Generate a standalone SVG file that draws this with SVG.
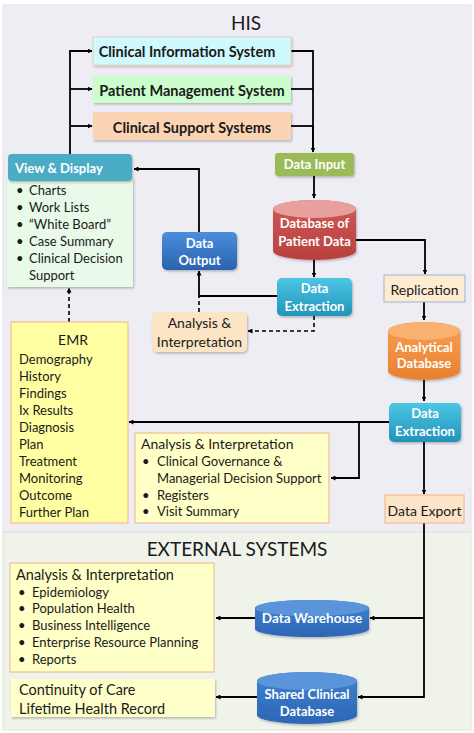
<svg xmlns="http://www.w3.org/2000/svg" width="474" height="733" viewBox="0 0 474 733">
<style>
text{font-family:Lato,"Liberation Sans",sans-serif;fill:#1a1a1a;dominant-baseline:central}
.b{font-weight:bold}
.w{fill:#ffffff;font-weight:bold}
.c{text-anchor:middle}
.t13{font-size:13px}
.t14{font-size:14px}
.tb{font-size:14.5px}
.t18{font-size:19px}
.ln{fill:none;stroke:#000;stroke-width:1.8}
.dash{fill:none;stroke:#000;stroke-width:1.6;stroke-dasharray:4,3}
.yel{fill:#FFFFC8;stroke:#F4B183;stroke-width:1}
</style>
<defs>
<marker id="ah" viewBox="0 0 10 10" refX="9" refY="5" markerWidth="5" markerHeight="5" orient="auto" markerUnits="userSpaceOnUse">
<path d="M0,0 L10,5 L0,10 z" fill="#000"/>
</marker>
<filter id="sh" x="-10%" y="-10%" width="130%" height="140%">
<feDropShadow dx="1" dy="1.5" stdDeviation="1" flood-color="#000" flood-opacity="0.25"/>
</filter>
<linearGradient id="gExt" x1="0" y1="0" x2="0" y2="1"><stop offset="0" stop-color="#4CC6E6"/><stop offset="1" stop-color="#2294B8"/></linearGradient>
<linearGradient id="gOut" x1="0" y1="0" x2="0" y2="1"><stop offset="0" stop-color="#4A8EDD"/><stop offset="1" stop-color="#2B62B0"/></linearGradient>
<linearGradient id="gRed" x1="0" y1="0" x2="0" y2="1"><stop offset="0" stop-color="#D05A57"/><stop offset="1" stop-color="#B8403D"/></linearGradient>
<linearGradient id="gOr" x1="0" y1="0" x2="0" y2="1"><stop offset="0" stop-color="#F9A050"/><stop offset="1" stop-color="#E88030"/></linearGradient>
<linearGradient id="gBl" x1="0" y1="0" x2="0" y2="1"><stop offset="0" stop-color="#3F82D0"/><stop offset="1" stop-color="#2C66B5"/></linearGradient>
</defs>

<g id="regions">
<rect x="3" y="5" width="468" height="527" fill="#EFEDF4" stroke="#E2E0EA" stroke-width="1"/>
<rect x="3" y="532" width="468" height="198" fill="#EFF3EA" stroke="#DCE5D2" stroke-width="1"/>
<text x="246" y="22" class="c t18">HIS</text>
<text x="237" y="548" class="c t18">EXTERNAL SYSTEMS</text>
</g>

<g id="connectors">
<path class="ln" d="M70,154 V51 H92" marker-end="url(#ah)"/>
<path class="ln" d="M70,89 H92" marker-end="url(#ah)"/>
<path class="ln" d="M70,126 H92" marker-end="url(#ah)"/>
<path class="ln" d="M291,51 H313 V152"/>
<path class="ln" d="M291,89 H313"/>
<path class="ln" d="M291,126 H313"/>
<path class="ln" d="M313,126 V152" marker-end="url(#ah)"/>
<path class="ln" d="M314,176 V198" marker-end="url(#ah)"/>
<path class="ln" d="M314,260 V277" marker-end="url(#ah)"/>
<path class="ln" d="M277,296 H199 V271" marker-end="url(#ah)"/>
<path class="ln" d="M199,232 V169 H134" marker-end="url(#ah)"/>
<path class="dash" d="M314,316 V331 H248" marker-end="url(#ah)"/>
<path class="dash" d="M199,312 V297"/>
<path class="ln" d="M356,240 H425 V274" marker-end="url(#ah)"/>
<path class="ln" d="M424,302 V320" marker-end="url(#ah)"/>
<path class="ln" d="M424,380 V401" marker-end="url(#ah)"/>
<path class="ln" d="M389,422 H129" marker-end="url(#ah)"/>
<path class="ln" d="M359,422 V478 H331" marker-end="url(#ah)"/>
<path class="ln" d="M424,442 V494" marker-end="url(#ah)"/>
<path class="dash" d="M69,322 V288" marker-end="url(#ah)"/>
<path class="ln" d="M424,523 V697 H358" marker-end="url(#ah)"/>
<path class="ln" d="M424,618 H370" marker-end="url(#ah)"/>
<path class="ln" d="M255,618 H216" marker-end="url(#ah)"/>
<path class="ln" d="M257,697 H216" marker-end="url(#ah)"/>
</g>

<g id="cis">
<rect x="93" y="37" width="198" height="28" fill="#CFF9FC" stroke="#E3C8C8" stroke-width="0.8" filter="url(#sh)"/>
<text x="187" y="51" class="c b tb">Clinical Information System</text>
</g>
<g id="pms">
<rect x="93" y="76" width="198" height="27" fill="#CCFDCC" filter="url(#sh)"/>
<text x="192" y="90" class="c b tb">Patient Management System</text>
</g>
<g id="css">
<rect x="93" y="112" width="198" height="28" fill="#FBD4B4" filter="url(#sh)"/>
<text x="192" y="127" class="c b tb">Clinical Support Systems</text>
</g>

<g id="view-display">
<rect x="7" y="178" width="126" height="109" fill="#E9FBE8" filter="url(#sh)"/>
<rect x="8" y="154" width="124" height="27" rx="4" fill="#4BACC6" filter="url(#sh)"/>
<text x="15" y="168" class="w t13">View &amp; Display</text>
<g class="t13">
<text x="16" y="190">•</text><text x="29" y="190">Charts</text>
<text x="16" y="207">•</text><text x="29" y="207">Work Lists</text>
<text x="16" y="224">•</text><text x="29" y="224">“White Board”</text>
<text x="16" y="241">•</text><text x="29" y="241">Case Summary</text>
<text x="16" y="258">•</text><text x="29" y="258">Clinical  Decision</text>
<text x="29" y="275">Support</text>
</g>
</g>

<g id="data-input">
<rect x="275" y="153" width="79" height="23" rx="3" fill="#9BBB59" filter="url(#sh)"/>
<text x="314.5" y="164" class="c w t13">Data Input</text>
</g>

<g id="db-patient">
<path d="M273,209 A41.5,9 0 0 1 356,209 V251 A41.5,9 0 0 1 273,251 Z" fill="url(#gRed)" filter="url(#sh)"/>
<ellipse cx="314.5" cy="209" rx="41.5" ry="9" fill="#E8A09E"/>
<text x="314.5" y="223" class="c w t13">Database of</text>
<text x="314.5" y="241" class="c w t13">Patient Data</text>
</g>

<g id="data-output">
<rect x="162" y="232" width="75" height="38" rx="5" fill="url(#gOut)" filter="url(#sh)"/>
<text x="199.5" y="243" class="c w t13">Data</text>
<text x="199.5" y="260" class="c w t13">Output</text>
</g>

<g id="data-extraction-1">
<rect x="277" y="278" width="75" height="38" rx="5" fill="url(#gExt)" filter="url(#sh)"/>
<text x="314.5" y="288" class="c w t13">Data</text>
<text x="314.5" y="306" class="c w t13">Extraction</text>
</g>

<g id="analysis-1">
<rect x="152" y="312" width="95" height="40" rx="5" fill="#FCE5C4" filter="url(#sh)"/>
<text x="199.5" y="322" class="c t14">Analysis &amp;</text>
<text x="199.5" y="341" class="c t14">Interpretation</text>
</g>

<g id="replication">
<rect x="384" y="275" width="81" height="27" fill="#FDEBD2" stroke="#9DB4D0" stroke-width="1"/>
<text x="424.5" y="289" class="c t14">Replication</text>
</g>

<g id="analytical-db">
<path d="M388,331 A36,9 0 0 1 460,331 V371 A36,9 0 0 1 388,371 Z" fill="url(#gOr)" filter="url(#sh)"/>
<ellipse cx="424" cy="331" rx="36" ry="9" fill="#FAB070"/>
<text x="424" y="347" class="c w t13">Analytical</text>
<text x="424" y="363" class="c w t13">Database</text>
</g>

<g id="data-extraction-2">
<rect x="389" y="403" width="72" height="39" rx="5" fill="url(#gExt)" filter="url(#sh)"/>
<text x="425" y="413" class="c w t13">Data</text>
<text x="425" y="431" class="c w t13">Extraction</text>
</g>

<g id="emr">
<rect x="11" y="322" width="117" height="201" fill="#FFFFA2" stroke="#F4B183" stroke-width="1"/>
<text x="73" y="339" class="c t14">EMR</text>
<g class="t13">
<text x="19" y="359">Demography</text>
<text x="19" y="376">History</text>
<text x="19" y="393">Findings</text>
<text x="19" y="410">Ix Results</text>
<text x="19" y="427">Diagnosis</text>
<text x="19" y="444">Plan</text>
<text x="19" y="461">Treatment</text>
<text x="19" y="478">Monitoring</text>
<text x="19" y="495">Outcome</text>
<text x="19" y="512">Further Plan</text>
</g>
</g>

<g id="analysis-2">
<rect x="135" y="433" width="194" height="90" class="yel"/>
<text x="141" y="443" class="t14">Analysis &amp; Interpretation</text>
<g class="t13">
<text x="142" y="461">•</text><text x="157" y="461">Clinical Governance &amp;</text>
<text x="157" y="478">Managerial Decision Support</text>
<text x="142" y="495">•</text><text x="157" y="495">Registers</text>
<text x="142" y="511">•</text><text x="157" y="511">Visit Summary</text>
</g>
</g>

<g id="data-export">
<rect x="385" y="495" width="79" height="28" fill="#FCE4C8" stroke="#F4B183" stroke-width="1"/>
<text x="424.5" y="510" class="c t14">Data Export</text>
</g>

<g id="analysis-ext">
<rect x="10" y="563" width="204" height="109" class="yel"/>
<text x="16" y="574" class="tb">Analysis &amp; Interpretation</text>
<g class="t13">
<text x="18" y="592">•</text><text x="32" y="592">Epidemiology</text>
<text x="18" y="608">•</text><text x="32" y="608">Population Health</text>
<text x="18" y="625">•</text><text x="32" y="625">Business Intelligence</text>
<text x="18" y="642">•</text><text x="32" y="642">Enterprise Resource Planning</text>
<text x="18" y="659">•</text><text x="32" y="659">Reports</text>
</g>
</g>

<g id="data-warehouse">
<path d="M255,608 A57,8 0 0 1 369,608 V629 A57,8 0 0 1 255,629 Z" fill="url(#gBl)" filter="url(#sh)"/>
<ellipse cx="312" cy="608" rx="57" ry="8" fill="#5A95DB"/>
<text x="312" y="618" class="c w" font-size="13.5">Data  Warehouse</text>
</g>

<g id="shared-db">
<path d="M257,681 A50,9 0 0 1 357,681 V715 A50,9 0 0 1 257,715 Z" fill="url(#gBl)" filter="url(#sh)"/>
<ellipse cx="307" cy="681" rx="50" ry="9" fill="#5A95DB"/>
<text x="307" y="694" class="c w t13">Shared Clinical</text>
<text x="307" y="711" class="c w t13">Database</text>
</g>

<g id="continuity">
<rect x="11" y="679" width="204" height="38" fill="#FFFFCC" filter="url(#sh)"/>
<text x="19" y="689" class="tb">Continuity of Care</text>
<text x="19" y="708" class="tb">Lifetime Health Record</text>
</g>
</svg>
